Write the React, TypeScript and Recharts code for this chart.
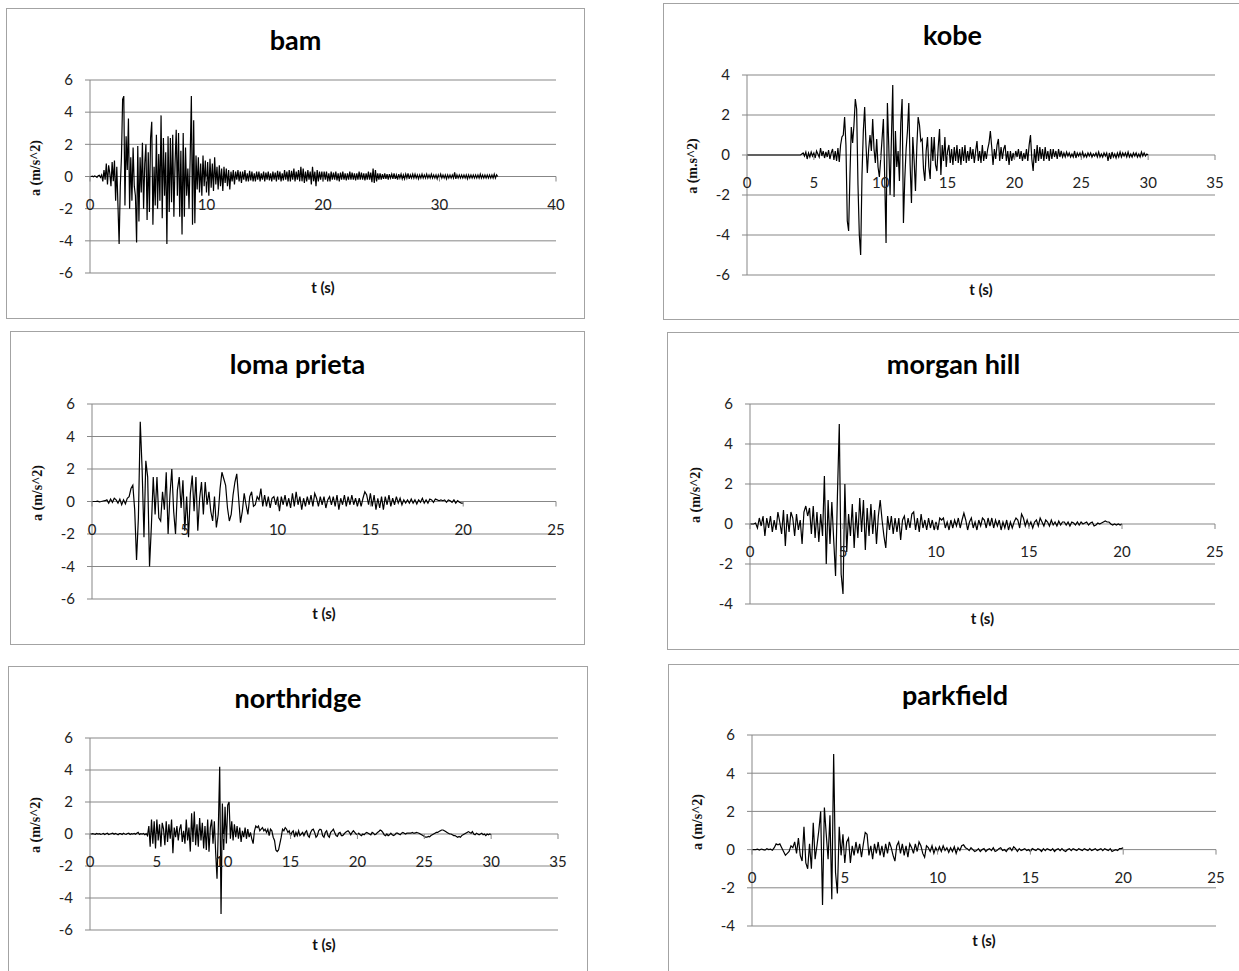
import React from 'react';
import { LineChart, Line, XAxis, YAxis, CartesianGrid } from 'recharts';

// ground acceleration records, one value every 0.1 s (m/s^2)
const SAMPLE_STEP = 0.1;

const bamAccel = [
  0, 0, 0.02, -0.02, 0.03, 0, -0.05, 0.05, 0.08, -0.06,
  0.1, -0.3, 0.4, -0.2, 0.8, -0.5, 0.7, 0.2, -0.6, 0.9,
  -0.3, 1, -1.5, 0.6, -1.8, -4.2, -0.6, 1.2, 4.8, 5,
  -1.8, 2.5, 0.4, 3.6, -2, 1.2, -1.5, 1.8, -0.6, -1.2,
  -4.1, 1.9, -2.8, 1.2, -1, 2.1, -2, 0.8, 2, -2.7,
  1.5, -2.2, 2.4, 3.4, -3, 0.6, -1.8, 2.6, -2, 1.4,
  -1.5, 3.8, -2.6, 2.4, -1.2, 1.5, -4.2, 2.5, -2.2, 2.4,
  -1.6, 2.6, -2.5, 0.8, 2.9, -1.2, 2.7, -2.5, 1.6, -3.6,
  2.7, -2.5, 1.8, -1.2, 0.5, -2, 1.2, 5, -3, 3.5,
  -2.9, 1.3, -0.8, 1.2, -1, 0.8, -1.2, 1.3, -0.6, 1,
  -1, 0.9, -1.2, 1.1, -0.7, 0.8, -0.9, 1.2, -0.5, 0.6,
  -0.8, 0.7, -0.6, 0.5, -0.9, 0.6, -0.4, 0.5, -0.6, 0.4,
  -0.8, 0.3, -0.3, 0.4, -0.5, 0.3, -0.2, 0.4, -0.3, 0.3,
  -0.4, 0.3, -0.2, 0.4, -0.3, 0.2, -0.3, 0.35, -0.25, 0.3,
  -0.3, 0.2, -0.3, 0.3, -0.2, 0.3, -0.3, 0.2, -0.2, 0.3,
  -0.3, 0.25, -0.2, 0.3, -0.25, 0.2, -0.3, 0.3, -0.2, 0.25,
  -0.3, 0.35, -0.2, 0.3, -0.3, 0.2, -0.25, 0.4, -0.2, 0.3,
  -0.3, 0.4, -0.3, 0.35, -0.2, 0.5, -0.3, 0.3, -0.2, 0.4,
  -0.3, 0.6, -0.3, 0.5, -0.4, 0.3, -0.3, 0.4, -0.2, 0.3,
  -0.5, 0.6, -0.3, 0.3, -0.6, 0.4, -0.3, 0.3, -0.2, 0.3,
  -0.3, 0.3, -0.2, 0.3, -0.3, 0.2, -0.3, 0.3, -0.2, 0.25,
  -0.2, 0.3, -0.25, 0.2, -0.3, 0.25, -0.2, 0.3, -0.2, 0.2,
  -0.25, 0.2, -0.2, 0.3, -0.2, 0.25, -0.2, 0.2, -0.25, 0.2,
  -0.2, 0.3, -0.2, 0.25, -0.2, 0.2, -0.25, 0.2, -0.2, 0.3,
  -0.2, 0.25, -0.35, 0.5, -0.4, 0.4, -0.3, 0.2, -0.2, 0.2,
  -0.2, 0.15, -0.15, 0.2, -0.15, 0.15, -0.2, 0.15, -0.1, 0.15,
  -0.15, 0.2, -0.15, 0.1, -0.2, 0.15, -0.1, 0.15, -0.15, 0.1,
  -0.15, 0.15, -0.1, 0.2, -0.15, 0.1, -0.1, 0.15, -0.1, 0.15,
  -0.1, 0.1, -0.15, 0.1, -0.1, 0.15, -0.1, 0.1, -0.1, 0.15,
  -0.1, 0.1, -0.1, 0.15, -0.1, 0.1, -0.1, 0.1, -0.15, 0.1,
  -0.1, 0.15, -0.1, 0.1, -0.1, 0.1, -0.15, 0.1, -0.1, 0.1,
  -0.1, 0.1, -0.1, 0.25, -0.15, 0.1, -0.1, 0.1, -0.1, 0.1,
  -0.1, 0.1, -0.1, 0.1, -0.15, 0.1, -0.1, 0.1, -0.1, 0.1,
  -0.1, 0.1, -0.1, 0.1, -0.1, 0.15, -0.1, 0.1, -0.1, 0.1,
  -0.1, 0.1, -0.1, 0.1, -0.1, 0.1, -0.1, 0.15, -0.1, 0.1,
  0,
];

const kobeAccel = [
  0, 0, 0, 0, 0, 0, 0, 0, 0, 0,
  0, 0, 0, 0, 0, 0, 0, 0, 0, 0,
  0, 0, 0, 0, 0, 0, 0, 0, 0, 0,
  0, 0, 0, 0, 0, 0, 0, 0, 0, 0,
  0, 0.05, 0.1, -0.05, 0.15, -0.2, 0.1, -0.1, 0.15, -0.05,
  0.1, -0.15, 0.2, 0.05, -0.1, 0.35, -0.05, 0.2, -0.15, 0.15,
  -0.1, 0.25, -0.2, 0.1, 0.3, -0.25, 0.2, -0.3, 0.35, -0.35,
  0.5, 0.9, 1, 1.9, 0.5, -3.3, -3.8, -1, 1.4, 0.6,
  1.5, 2.8, 2.3, -1.5, -4, -5, -1, 1.2, 2.4, 0.5,
  -0.9, 0.3, 1, 0.2, 1.8, 0.3, -0.4, 0.8, -0.6, -1.1,
  -0.2, 0.8, 1.8, -1.2, -4.4, 2.6, 0.5, -2, 0.8, 3.5,
  -2.1, 1.2, -0.6, 0.2, -1.3, 1.6, 2.8, -3.4, -1.2, 0.3,
  1.2, 2.6, -0.5, -2.4, 0.9, -0.3, -1.8, 0.4, 1.9, 1.5,
  0.7, 0.8, -0.7, -1.3, 0.2, 0.9, -0.6, -1.2, 0.9, -0.3,
  0.9, -0.5, -0.8, 0.4, 1.3, -1, 0.5, -0.3, 0.9, -0.6,
  0.2, 0.5, -0.4, 0.3, -0.5, 0.4, -0.3, 0.5, -0.4, 0.3,
  -0.5, 0.4, -0.3, 0.5, -0.4, 0.2, -0.3, 0.4, -0.2, 0.3,
  -0.4, 0.2, 0.7, -0.3, 0.2, -0.4, 0.5, -0.3, 0.2, -0.2,
  0.3, 0.6, 1.2, 0.4, -0.5, 0.3, -0.2, 0.5, 0.8, -0.3,
  0.4, -0.2, 0.3, 0.5, -0.3, 0.2, -0.5, 0.2, -0.3, 0.1,
  -0.2, 0.2, -0.1, 0.3, -0.2, 0.2, -0.3, 0.1, -0.2, 0.3,
  -0.3, 0.5, 1, -0.2, -0.8, 0.3, -0.4, 0.5, -0.3, 0.4,
  -0.2, 0.3, -0.3, 0.4, -0.2, 0.2, -0.3, 0.3, -0.2, 0.3,
  -0.1, 0.2, -0.2, 0.3, -0.1, 0.2, -0.1, 0.1, -0.1, 0.15,
  -0.05, 0.1, -0.1, 0.05, -0.1, 0.2, -0.15, 0.1, -0.05, 0.1,
  -0.1, 0.15, -0.1, 0.05, -0.1, 0.1, -0.05, 0.1, -0.1, 0.05,
  -0.05, 0.1, -0.1, 0.15, -0.1, 0.05, -0.1, 0.1, -0.05, 0.1,
  -0.3, 0.1, -0.2, 0.15, -0.1, 0.05, -0.15, 0.1, -0.1, 0.15,
  -0.1, 0.1, -0.05, 0.1, -0.1, 0.15, -0.1, 0.05, -0.1, 0.1,
  -0.05, 0.1, -0.1, 0.05, -0.1, 0.15, -0.05, 0.1, -0.05, 0.05,
  0,
];

const lomaPrietaAccel = [
  0, 0, 0, 0.02, -0.02, 0, 0.03, 0.05, 0.1, -0.1,
  0.15, -0.05, 0.2, 0.1, -0.1, 0.15, -0.2, 0.1, -0.15, 0.2,
  0.3, 0.8, 1, -0.5, -3.6, -1, 4.9, 2, -2.2, 2.5,
  1.5, -4, -1.5, 1.5, -0.8, 1.5, -1, -1.2, 0.6, -0.5,
  1.8, -2, 0.4, 2, -0.6, -2, 0.7, 1.5, -0.4, 1.3,
  -1.8, 0.3, -2.2, 0.5, 1.6, -0.6, 1.5, -1.8, 0.2, 1.2,
  -0.8, 1.2, -0.2, 0.6, -0.6, -1.2, 0.3, -1.6, -0.8, 0.8,
  1.8, 1.4, 1, -0.4, -1.2, -0.8, 0.4, 1.2, 1.7, 0.2,
  -1.3, -0.6, 0.5, -0.2, -0.8, 0.3, 0.6, -0.3, -0.2, 0.3,
  0.1, 0.8, -0.3, 0.4, -0.3, 0.3, -0.4, 0.2, 0.3, -0.2,
  0.3, -0.6, 0.3, -0.2, 0.4, -0.3, 0.2, -0.4, 0.5, -0.3,
  0.6, -0.2, 0.3, -0.5, 0.2, -0.3, 0.3, -0.2, 0.4, -0.3,
  0.5, 0.2, -0.3, 0.3, -0.2, 0.3, -0.4, 0.1, 0.3, -0.2,
  0.3, -0.3, 0.4, -0.5, 0.2, -0.2, 0.4, -0.3, 0.3, -0.2,
  0.4, -0.2, 0.2, -0.3, 0.2, -0.3, 0.2, 0.6, 0.4, -0.2,
  0.5, -0.3, 0.4, -0.5, 0.2, -0.4, 0.3, -0.5, 0.3, -0.2,
  0.4, -0.3, 0.2, -0.2, 0.3, -0.1, 0.2, -0.2, 0.1, -0.1,
  0.1, -0.1, 0.15, -0.1, 0.1, -0.15, 0.1, -0.05, 0.2, -0.1,
  0.1, -0.1, 0.15, 0.1, -0.05, 0.15, 0.1, 0.05, 0.1, 0.05,
  0.1, -0.05, 0.1, 0.05, -0.05, 0.1, -0.1, 0.05, -0.05, -0.1,
  -0.1,
];

const morganHillAccel = [
  0, 0, 0, 0.05, -0.2, 0.3, -0.1, 0.4, -0.6, 0.3,
  -0.2, 0.4, -0.4, 0.2, -0.3, 0.6, 0.1, -0.5, 0.7, -1.1,
  0.5, -0.4, 0.6, 0.3, -0.6, 0.5, -0.3, 0.2, -1, 0.6,
  0.9, 0.4, 0.8, -0.5, 0.9, -0.7, 0.6, -0.9, 0.5, -0.6,
  2.4, -2, 1.2, -1, 1.1, -0.8, -2.6, 1.4, 5, -2.5,
  -3.5, 2, -1.4, 0.5, -0.6, 1, -1.2, 0.6, -0.7, 1.3,
  -0.4, 1.2, -1.3, 0.8, -0.6, 1, -0.5, 0.7, -1, 0.4,
  1.2, 0.2, -0.6, -1.2, 0.4, -0.3, 0.4, -0.5, 0.3, -0.4,
  0.3, -0.8, 0.2, 0.4, -0.3, 0.3, -0.2, 0.5, 0.6, -0.3,
  0.3, -0.4, 0.5, -0.2, 0.2, -0.3, 0.3, -0.2, 0.2, -0.3,
  0.1, -0.3, 0.3, 0.2, 0.3, -0.2, 0.1, -0.3, 0.2, -0.2,
  0.2, -0.1, 0.3, -0.2, 0.2, 0.55, 0.2, -0.3, 0.1, 0.3,
  -0.2, 0.1, -0.3, 0.2, -0.1, 0.3, 0.2, -0.2, 0.3, -0.1,
  0.3, -0.2, 0.2, -0.1, 0.2, -0.3, 0.1, -0.2, 0.2, -0.3,
  0.1, -0.2, 0.1, 0.3, 0.2, -0.2, 0.5, 0.3, -0.1, 0.2,
  -0.1, 0.1, -0.2, 0.1, 0.2, -0.1, 0.3, 0.1, -0.1, 0.2,
  0.1, -0.1, 0.2, -0.05, 0.1, -0.1, 0.15, -0.05, 0.1, 0.1,
  -0.05, 0.1, -0.1, 0.1, 0.05, -0.05, 0.1, -0.05, 0.1, 0,
  0.05, 0.1, -0.05, 0.05, 0.1, -0.1, -0.05, 0.05, 0, 0.05,
  0.1, 0.15, 0.1, 0.1, 0, -0.05, 0, -0.05, 0, -0.05,
  0,
];

const northridgeAccel = [
  0, 0, 0.02, 0, -0.02, 0.03, 0, 0.02, -0.02, 0,
  0.03, -0.03, 0.02, 0.05, -0.03, 0, 0.02, 0.05, -0.02, 0.03,
  0, -0.05, 0.03, 0.02, -0.03, 0.05, 0, -0.02, 0.03, 0.05,
  -0.03, 0.02, 0, 0.03, -0.02, 0.05, 0.1, -0.03, 0.02, 0,
  0.03, -0.05, 0.02, -0.1, 0.5, -0.8, 0.9, -0.6, 0.8, -0.9,
  0.9, -0.4, 0.6, -0.8, 0.7, 0.3, -0.7, 0.8, -0.5, 0.6,
  -0.3, 0.9, -1.2, 0.4, -0.2, 0.5, -0.4, 0.3, 0.6, -0.5,
  0.2, -0.6, 0.9, -0.4, 0.4, -1.1, 1.3, -0.5, 1.4, -0.7,
  0.6, -0.8, 1, -0.4, 0.7, -0.9, 0.5, -1, 0.9, -1.1,
  0.4, 0.9, -0.6, 0.8, -1.2, -2.8, 0.5, 4.2, -5, 1.9,
  -1, 1.7, -0.6, 1.8, 2, -0.3, 0.8, -0.4, 0.6, -0.2,
  0.5, -0.3, 0.4, -0.5, 0.2, -0.2, 0.4, -0.3, 0.3, -0.2,
  0.1, -0.3, -0.6, 0.2, 0.5, 0.4, 0.5, 0.2, 0.3, 0.4,
  0.2, 0.3, 0.1, 0.3, -0.1, 0.3, 0.2, -0.2, -0.4, -1,
  -1.1, -1, -0.6, -0.2, 0.3, 0.2, 0.4, 0.3, 0.1, 0.2,
  -0.1, 0.1, 0.2, -0.2, 0.1, -0.1, 0.2, -0.1, 0, 0.1,
  -0.1, 0.1, 0.2, -0.1, -0.2, 0.1, 0.25, 0.3, 0.1, -0.2,
  -0.1, 0.2, 0.3, 0.25, -0.1, -0.2, 0.1, 0.2, -0.1, -0.2,
  0.1, 0.2, 0.3, 0.1, -0.1, -0.15, 0.05, 0.1, -0.1, -0.1,
  0, 0.1, 0.15, 0.2, 0.1, -0.05, 0.1, 0.2, 0.1, 0,
  -0.05, 0.05, -0.05, -0.1, 0, -0.05, 0.05, 0.1, 0.05, 0,
  -0.05, 0.1, 0.05, -0.05, 0, 0.1, 0.15, 0.25, 0.2, 0.1,
  -0.05, -0.1, 0, -0.1, -0.05, 0.05, -0.05, -0.1, -0.05, 0.05,
  0.05, 0, -0.05, 0.05, 0.1, 0.05, 0, 0.05, 0.05, 0.05,
  0.05, 0.1, 0.05, 0.05, 0.1, 0.08, 0.05, 0, -0.05, -0.1,
  -0.15, -0.2, -0.2, -0.15, -0.18, -0.1, -0.05, 0, 0.05, 0.1,
  0.1, 0.15, 0.2, 0.25, 0.25, 0.2, 0.15, 0.1, 0.05, 0,
  0, -0.05, -0.1, -0.1, -0.15, -0.2, -0.15, -0.2, -0.1, -0.05,
  0, 0.05, 0.1, 0.15, 0.1, 0.05, 0.15, 0, -0.05, 0.05,
  0, -0.05, 0, 0.05, -0.05, 0, -0.1, 0, -0.05, 0,
  -0.05,
];

const parkfieldAccel = [
  0, 0, 0, 0.02, -0.02, 0.03, 0, -0.03, 0.05, 0,
  0.02, -0.03, 0.1, 0.3, 0.25, 0.3, 0.1, -0.1, -0.3, -0.2,
  -0.1, 0.2, 0.1, 0.4, -0.2, 0.6, -0.3, -0.6, 1.2, -0.7,
  -1, 0.3, -1, 1.4, -0.5, 0.2, 1, 2, -2.9, 2.2,
  0.8, -0.5, 1.8, -2.6, 5, -1.2, -2.3, 1.2, -0.3, 0.8,
  -0.7, 0.4, 0.6, -0.7, 0.2, -0.3, 0.4, -0.2, 0.3, -0.4,
  0.3, 0.9, 0.8, -0.3, 0.2, -0.5, 0.3, -0.2, 0.4, -0.3,
  0.2, -0.4, 0.3, -0.2, 0.4, 0.1, -0.3, -0.6, 0.2, 0.4,
  -0.2, 0.3, -0.3, 0.2, -0.4, 0.3, 0.1, -0.2, 0.3, -0.1,
  0.4, 0.2, -0.2, -0.4, 0.2, 0.1, -0.1, 0.2, -0.2, 0.1,
  -0.1, 0.15, -0.1, 0.2, -0.05, 0.1, -0.15, 0.1, -0.1, 0.15,
  -0.2, 0.1, -0.05, 0.2, 0.25, 0.1, 0.05, -0.05, 0.1, 0,
  -0.1, -0.05, 0.05, -0.1, 0, 0.05, -0.1, 0, 0.05, -0.05,
  0.1, -0.1, -0.05, 0.05, 0.1, -0.05, 0, -0.1, 0.05, 0.1,
  -0.05, 0.15, 0.05, -0.1, 0.05, -0.05, 0, 0.05, -0.05, 0,
  -0.1, 0.05, 0, -0.05, 0.05, 0, -0.1, 0.05, -0.05, 0.05,
  0, -0.05, 0.05, -0.1, 0, 0.05, -0.05, 0.05, -0.05, -0.1,
  0, 0.05, -0.05, 0.05, 0, -0.05, 0.05, 0, -0.05, 0.05,
  0, -0.05, 0.05, -0.05, 0, 0.05, -0.05, 0, 0.05, -0.05,
  0.05, 0, -0.05, 0.05, -0.1, -0.05, 0, -0.05, 0.05, 0.05,
  0.1,
];

const ticks6to6 = [-6, -4, -2, 0, 2, 4, 6];
const ticks6to4 = [-6, -4, -2, 0, 2, 4];
const ticks4to6 = [-4, -2, 0, 2, 4, 6];
const timeTicks40 = [0, 10, 20, 30, 40];
const timeTicks35 = [0, 5, 10, 15, 20, 25, 30, 35];
const timeTicks25 = [0, 5, 10, 15, 20, 25];

const GRID = '#878787';
const FONT = 'Lato, "Open Sans", sans-serif';
const PAD_LEFT = 70;
const PAD = 12;

type Rect = { left: number; top: number; width: number; height: number };
type PlotRect = { left: number; top: number; right: number; bottom: number };

interface PanelProps {
  title: string;
  yLabel: string;
  accel: number[];
  xTicks: number[];
  yTicks: number[];
  box: Rect;
  plot: PlotRect;
}

const Panel = ({ title, yLabel, accel, xTicks, yTicks, box, plot }: PanelProps) => {
  const rows = accel.map((a, i) => ({ t: Math.round(i * SAMPLE_STEP * 100) / 100, a }));
  const yMin = yTicks[0];
  const yMax = yTicks[yTicks.length - 1];
  const plotW = plot.right - plot.left;
  const plotH = plot.bottom - plot.top;
  // the time axis crosses at a = 0, like in Excel
  const zeroY = PAD + (plotH * yMax) / (yMax - yMin);

  const timeTick = (props: any) => {
    const { x, payload } = props;
    return (
      <g>
        <line x1={x} x2={x} y1={zeroY} y2={zeroY + 5} stroke={GRID} />
        <text x={x} y={zeroY + 27} textAnchor="middle" dominantBaseline="central"
          fontSize={15} fontFamily={FONT} fill="#222">{payload.value}</text>
      </g>
    );
  };

  return (
    <>
      <div style={{
        position: 'absolute', left: box.left, top: box.top, width: box.width, height: box.height,
        border: '1px solid #a3a3a3', boxSizing: 'border-box', background: '#fff',
      }} />
      <div style={{
        position: 'absolute', left: box.left, width: box.width, top: plot.top - 58, textAlign: 'center',
        fontFamily: FONT, fontWeight: 700, fontSize: 27, color: '#000', lineHeight: '36px',
      }}>{title}</div>
      <div style={{
        position: 'absolute', left: plot.left - 54, top: (plot.top + plot.bottom) / 2 - 9,
        transform: 'translate(-50%, -50%) rotate(-90deg)', whiteSpace: 'nowrap',
        fontFamily: '"Liberation Serif", serif', fontWeight: 700, fontSize: 14, color: '#111',
      }}>{yLabel}</div>
      <div style={{
        position: 'absolute', left: (plot.left + plot.right) / 2, top: plot.bottom + 14,
        transform: 'translate(-50%, -50%)', whiteSpace: 'nowrap',
        fontFamily: FONT, fontWeight: 700, fontSize: 15, color: '#111',
      }}>t (s)</div>
      <div style={{ position: 'absolute', left: plot.left - PAD_LEFT, top: plot.top - PAD }}>
        <LineChart width={plotW + PAD_LEFT + PAD} height={plotH + 2 * PAD} data={rows}
          margin={{ top: PAD, right: PAD, bottom: PAD - 1, left: 0 }}>
          <CartesianGrid vertical={false} stroke={GRID} />
          <XAxis dataKey="t" type="number" domain={[xTicks[0], xTicks[xTicks.length - 1]]}
            ticks={xTicks} interval={0} height={1} axisLine={false} tickLine={false} tick={timeTick} />
          <YAxis type="number" domain={[yMin, yMax]} ticks={yTicks} interval={0} width={PAD_LEFT}
            axisLine={{ stroke: GRID }} tickLine={{ stroke: GRID }} tickSize={5} tickMargin={12}
            tick={{ fontSize: 15, fill: '#222', fontFamily: FONT }} />
          <Line type="linear" dataKey="a" stroke="#000" strokeWidth={1.2} dot={false} isAnimationActive={false} />
        </LineChart>
      </div>
    </>
  );
};

export default function App() {
  return (
    <div style={{ position: 'absolute', left: 0, top: 0, width: 1239, height: 971, overflow: 'hidden', background: '#fff' }}>
      <Panel title="bam" yLabel="a (m/s^2)" accel={bamAccel} xTicks={timeTicks40} yTicks={ticks6to6}
        box={{ left: 6, top: 8, width: 579, height: 311 }}
        plot={{ left: 90, top: 80, right: 556, bottom: 273 }} />
      <Panel title="kobe" yLabel="a (m.s^2)" accel={kobeAccel} xTicks={timeTicks35} yTicks={ticks6to4}
        box={{ left: 663, top: 3, width: 579, height: 317 }}
        plot={{ left: 747, top: 75, right: 1215, bottom: 275 }} />
      <Panel title="loma prieta" yLabel="a (m/s^2)" accel={lomaPrietaAccel} xTicks={timeTicks25} yTicks={ticks6to6}
        box={{ left: 10, top: 331, width: 575, height: 314 }}
        plot={{ left: 92, top: 404, right: 556, bottom: 599 }} />
      <Panel title="morgan hill" yLabel="a (m/s^2)" accel={morganHillAccel} xTicks={timeTicks25} yTicks={ticks4to6}
        box={{ left: 667, top: 332, width: 573, height: 318 }}
        plot={{ left: 750, top: 404, right: 1215, bottom: 604 }} />
      <Panel title="northridge" yLabel="a (m/s^2)" accel={northridgeAccel} xTicks={timeTicks35} yTicks={ticks6to6}
        box={{ left: 8, top: 666, width: 580, height: 320 }}
        plot={{ left: 90, top: 738, right: 558, bottom: 930 }} />
      <Panel title="parkfield" yLabel="a (m/s^2)" accel={parkfieldAccel} xTicks={timeTicks25} yTicks={ticks4to6}
        box={{ left: 668, top: 664, width: 574, height: 320 }}
        plot={{ left: 752, top: 735, right: 1216, bottom: 926 }} />
    </div>
  );
}
